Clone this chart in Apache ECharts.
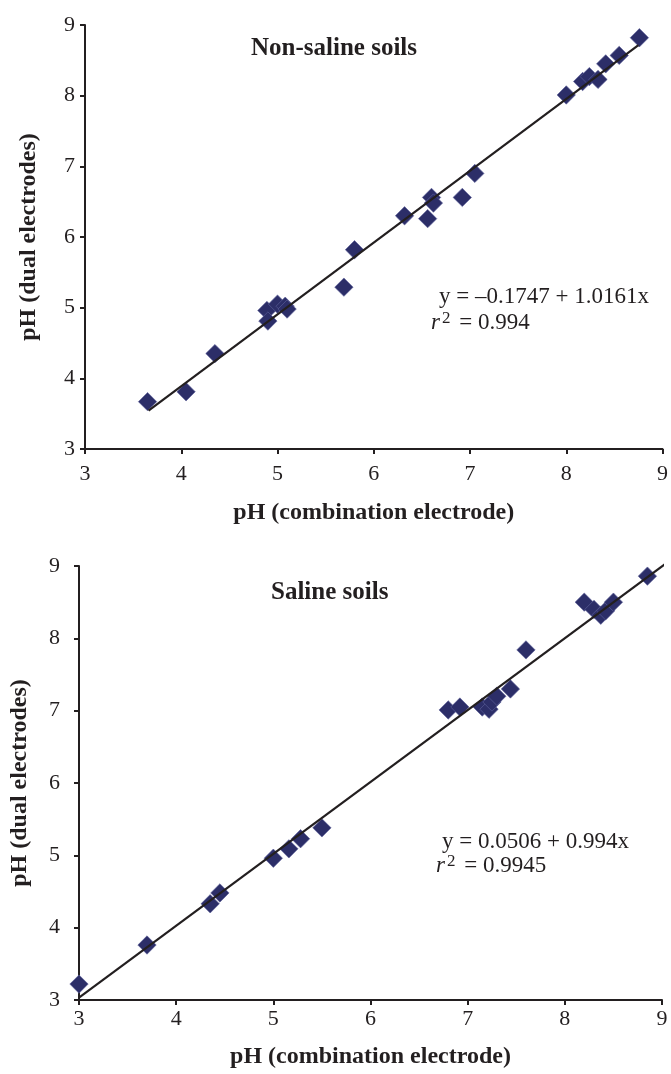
<!DOCTYPE html>
<html>
<head>
<meta charset="utf-8">
<script src="https://cdn.jsdelivr.net/npm/echarts@6/dist/echarts.min.js"></script>
<style>
html,body{margin:0;padding:0;background:#fff;}
#chart{width:671px;height:1074px;}
</style>
</head>
<body>
<div id="chart"></div>
<script>
// ---- Data ----
const topTitle = 'Non-saline soils';
const bottomTitle = 'Saline soils';
const xAxisTitle = 'pH (combination electrode)';
const yAxisTitle = 'pH (dual electrodes)';
const tickValues = [3, 4, 5, 6, 7, 8, 9];

// Non-saline soils: [pH combination electrode, pH dual electrodes]
const nonSalineX = [3.65, 4.05, 4.35, 4.89, 4.90, 5.00, 5.08, 5.10, 5.69, 5.80, 6.32, 6.56, 6.60, 6.62, 6.92, 7.05, 8.00, 8.17, 8.24, 8.33, 8.41, 8.55, 8.76];
const nonSalineY = [3.67, 3.81, 4.35, 4.96, 4.81, 5.05, 5.02, 4.98, 5.29, 5.82, 6.30, 6.26, 6.56, 6.48, 6.56, 6.90, 8.01, 8.20, 8.27, 8.23, 8.45, 8.57, 8.82];
const nonSalineFit = { intercept: -0.1747, slope: 1.0161, r2: '0.994', from: 3.66, to: 8.75 };

// Saline soils
const salineX = [3.00, 3.70, 4.35, 4.45, 5.00, 5.16, 5.28, 5.50, 6.80, 6.92, 7.15, 7.22, 7.25, 7.30, 7.44, 7.60, 8.20, 8.30, 8.37, 8.42, 8.50, 8.85];
const salineY = [3.22, 3.76, 4.33, 4.48, 4.96, 5.09, 5.23, 5.38, 7.01, 7.05, 7.05, 7.02, 7.12, 7.20, 7.30, 7.84, 8.50, 8.40, 8.32, 8.38, 8.50, 8.86];
const salineFit = { intercept: 0.0506, slope: 0.994, r2: '0.9945', from: 3.0, to: 9.1 };

// ---- Chart ----
const FONT = '"Liberation Serif", "DejaVu Serif", serif';
const MARK = '#2c2e68';
const INK = '#231f20';

function pairs(xs, ys) { return xs.map((x, i) => [x, ys[i]]); }
function fitLine(f) { return [[f.from, f.intercept + f.slope * f.from], [f.to, f.intercept + f.slope * f.to]]; }

const grids = [
  { left: 85, right: 8, top: 25, height: 424 },
  { left: 79, right: 9, top: 566, height: 434 }
];

function xAxis(gi, gap, margin) {
  return {
    gridIndex: gi, type: 'value', min: 3, max: 9, interval: 1,
    name: xAxisTitle, nameLocation: 'middle', nameGap: gap,
    nameTextStyle: { fontFamily: FONT, fontWeight: 'bold', fontSize: 24, color: INK },
    axisLine: { lineStyle: { color: INK, width: 2 } },
    axisTick: { show: true, inside: false, length: 5, lineStyle: { color: INK, width: 2 } },
    axisLabel: { fontFamily: FONT, fontSize: 22, color: INK, margin: margin },
    splitLine: { show: false }
  };
}
function yAxis(gi, gap, margin) {
  return {
    gridIndex: gi, type: 'value', min: 3, max: 9, interval: 1,
    name: yAxisTitle, nameLocation: 'middle', nameGap: gap,
    nameTextStyle: { fontFamily: FONT, fontWeight: 'bold', fontSize: 24, color: INK },
    axisLine: { show: true, lineStyle: { color: INK, width: 2 } },
    axisTick: { show: true, inside: false, length: 5, lineStyle: { color: INK, width: 2 } },
    axisLabel: { fontFamily: FONT, fontSize: 22, color: INK, margin: margin },
    splitLine: { show: false }
  };
}

function scatter(gi, data) {
  return {
    type: 'scatter', xAxisIndex: gi, yAxisIndex: gi, data: data,
    symbol: 'rect', symbolSize: 13, symbolRotate: 45,
    itemStyle: { color: MARK, opacity: 1, borderColor: '#5d609a', borderWidth: 0.6 },
    z: 3
  };
}
function line(gi, f) {
  return {
    type: 'line', xAxisIndex: gi, yAxisIndex: gi, data: fitLine(f),
    showSymbol: false, symbol: 'none', clip: false,
    lineStyle: { color: INK, width: 2.2 }, z: 4
  };
}

function r2Text(left, top, value) {
  return { type: 'text', left: left, top: top, style: {
    text: '{i|r}{s|2} = ' + value, font: '23px ' + FONT, fill: INK,
    rich: { i: { fontStyle: 'italic', fontFamily: FONT, fontSize: 23 }, s: { fontFamily: FONT, fontSize: 17, padding: [0, 3, 9, 2] } } } };
}

const option = {
  backgroundColor: '#fff',
  animation: false,
  grid: grids,
  xAxis: [xAxis(0, 52, 14), xAxis(1, 45, 8)],
  yAxis: [yAxis(0, 44, 10), yAxis(1, 47, 19)],
  series: [
    scatter(0, pairs(nonSalineX, nonSalineY)), line(0, nonSalineFit),
    scatter(1, pairs(salineX, salineY)), line(1, salineFit)
  ],
  graphic: [
    { type: 'text', left: 251, top: 36, style: { text: topTitle, font: 'bold 25px ' + FONT, fill: INK } },
    { type: 'text', left: 271, top: 580, style: { text: bottomTitle, font: 'bold 25px ' + FONT, fill: INK } },
    { type: 'text', left: 439, top: 285, style: { text: 'y = \u20130.1747 + 1.0161x', font: '23px ' + FONT, fill: INK } },
    r2Text(431, 310, nonSalineFit.r2),
    { type: 'text', left: 442, top: 830, style: { text: 'y = 0.0506 + 0.994x', font: '23px ' + FONT, fill: INK } },
    r2Text(436, 853, salineFit.r2)
  ]
};

const chart = echarts.init(document.getElementById('chart'), null, { renderer: 'canvas' });
chart.setOption(option);
</script>
</body>
</html>
